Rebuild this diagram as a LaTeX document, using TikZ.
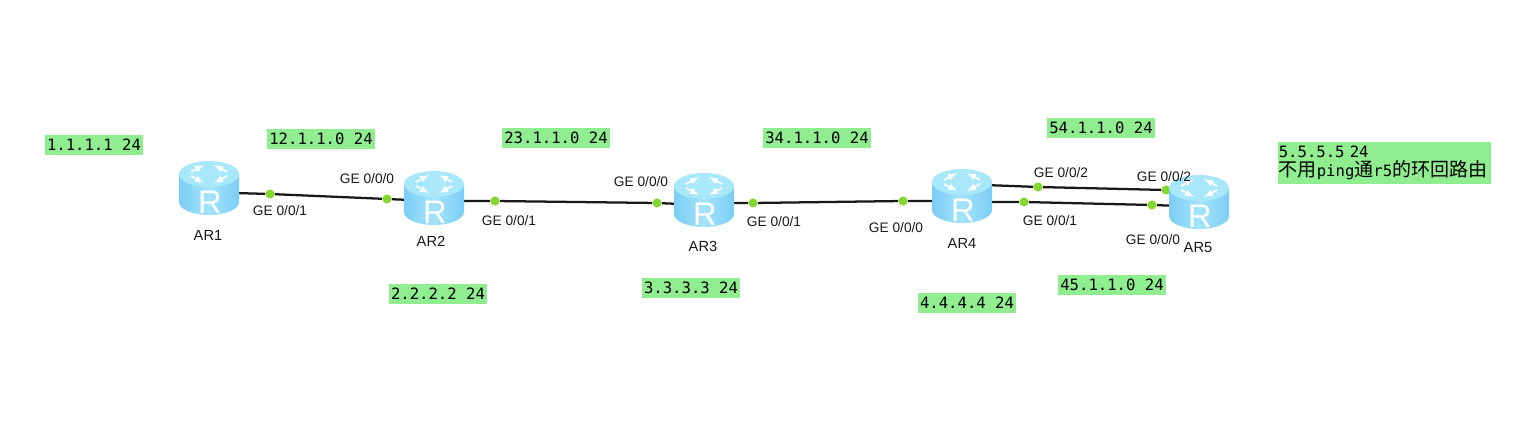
\documentclass[tikz,border=0pt]{standalone}
\usepackage{fontspec}
\setmainfont{Liberation Sans}
\setmonofont{DejaVu Sans Mono}
\newfontfamily\cjkfont{Noto Sans CJK SC}
\definecolor{netgreen}{HTML}{90EE90}
\definecolor{portgreen}{HTML}{84D62F}
\definecolor{routerside}{HTML}{7CCDF6}
\definecolor{routerlight}{HTML}{A4E4FC}
\definecolor{routertop}{HTML}{A9E8FB}
\begin{document}
\begin{tikzpicture}[x=0.75pt, y=-0.75pt, font=\fontsize{10.3}{12}\selectfont,
          net/.style={fill=netgreen, inner sep=0pt, minimum width=73.5pt, minimum height=15pt, font=\ttfamily\fontsize{11.7}{13}\selectfont},
          wide/.style={net, minimum width=81pt},
          port/.style={circle, fill=portgreen, inner sep=0pt, minimum size=6.8pt},
          ifname/.style={inner sep=0pt, text=black!90},
          devname/.style={ifname, font=\fontsize{11}{13}\selectfont},
          link/.style={line width=1.7pt, black!90},
          router/.pic={
            \shade[left color=routerside, right color=routerside, middle color=routerlight] (-30,-14) -- (-30,14) .. controls (-30,21.2) and (-16.6,27) .. (0,27) .. controls (16.6,27) and (30,21.2) .. (30,14) -- (30,-14) -- cycle;
            \fill[routertop] (0,-14) ellipse [x radius=30, y radius=13];
            \foreach \sx/\sy in {1/1,-1/1,1/-1,-1/-1}
              \draw[white, line width=1.3pt, -latex] (\sx*18,-14+\sy*2) -- (\sx*5,-14+\sy*9);
            \node[inner sep=0pt, text=white, font=\fontsize{24.5}{24.5}\selectfont] (-box) at (1,14.5) {R};
          }]
        \useasboundingbox (0,0) rectangle (1529,431);
        \node[port] (p12a) at (270,194) {};
        \node[port] (p12b) at (387,199) {};
        \node[port] (p23a) at (495,201) {};
        \node[port] (p23b) at (657,203) {};
        \node[port] (p34a) at (753,203) {};
        \node[port] (p34b) at (903,201) {};
        \node[port] (p45a) at (1038,187) {};
        \node[port] (p45b) at (1166,190) {};
        \node[port] (p54a) at (1024,202) {};
        \node[port] (p54b) at (1152,205) {};
        \coordinate (r1out) at (235,193);
        \coordinate (r2in) at (410,200);
        \coordinate (r2out) at (460,201);
        \coordinate (r3in) at (680,204);
        \coordinate (r3out) at (730,203);
        \coordinate (r4in) at (936,201);
        \coordinate (r4upper) at (985,185);
        \coordinate (r5upper) at (1180,190);
        \coordinate (r4lower) at (985,202);
        \coordinate (r5lower) at (1180,206);
        \draw[link] (r1out) -- (p12a) -- (p12b) -- (r2in);
        \draw[link] (r2out) -- (p23a) -- (p23b) -- (r3in);
        \draw[link] (r3out) -- (p34a) -- (p34b) -- (r4in);
        \draw[link] (r4upper) -- (p45a) -- (p45b) -- (r5upper);
        \draw[link] (r4lower) -- (p54a) -- (p54b) -- (r5lower);
        \pic (ar1) at (209,188) {router};
        \pic (ar2) at (434,198) {router};
        \pic (ar3) at (704,200) {router};
        \pic (ar4) at (962,196) {router};
        \pic (ar5) at (1199,202) {router};
        \node[devname] (l1) at (208,235) {AR1};
        \node[devname] (l2) at (431,241) {AR2};
        \node[devname] (l3) at (703,246) {AR3};
        \node[devname] (l4) at (962,243) {AR4};
        \node[devname] (l5) at (1198,248) {AR5};
        \node[ifname] (g1) at (280,211) {GE 0/0/1};
        \node[ifname] (g2) at (367,179) {GE 0/0/0};
        \node[ifname] (g3) at (509,221) {GE 0/0/1};
        \node[ifname] (g4) at (641,182) {GE 0/0/0};
        \node[ifname] (g5) at (774,222) {GE 0/0/1};
        \node[ifname] (g6) at (896,228) {GE 0/0/0};
        \node[ifname] (g7) at (1061,173) {GE 0/0/2};
        \node[ifname] (g8) at (1050,221) {GE 0/0/1};
        \node[ifname] (g9) at (1164,177) {GE 0/0/2};
        \node[ifname] (g10) at (1153,240) {GE 0/0/0};
        \node[net] (lo1) at (94,145) {1.1.1.1 24};
        \node[net] (lo2) at (438,294) {2.2.2.2 24};
        \node[net] (lo3) at (691,288) {3.3.3.3 24};
        \node[net] (lo4) at (967,303) {4.4.4.4 24};
        \node[wide] (n12) at (321,139) {12.1.1.0 24};
        \node[wide] (n23) at (556,138) {23.1.1.0 24};
        \node[wide] (n34) at (817,138) {34.1.1.0 24};
        \node[wide] (n54) at (1101,128) {54.1.1.0 24};
        \node[wide] (n45) at (1112,285) {45.1.1.0 24};
        \node[net, minimum width=160pt, minimum height=31.5pt, align=left, text width=158.5pt] (lo5) at (1384.5,163) {5.5.5.5 24\\[1.5pt]{\cjkfont\fontsize{14.25}{15}\selectfont 不用}ping{\cjkfont\fontsize{14.25}{15}\selectfont 通}r5{\cjkfont\fontsize{14.25}{15}\selectfont 的环回路由}};
      \end{tikzpicture}
\end{document}
